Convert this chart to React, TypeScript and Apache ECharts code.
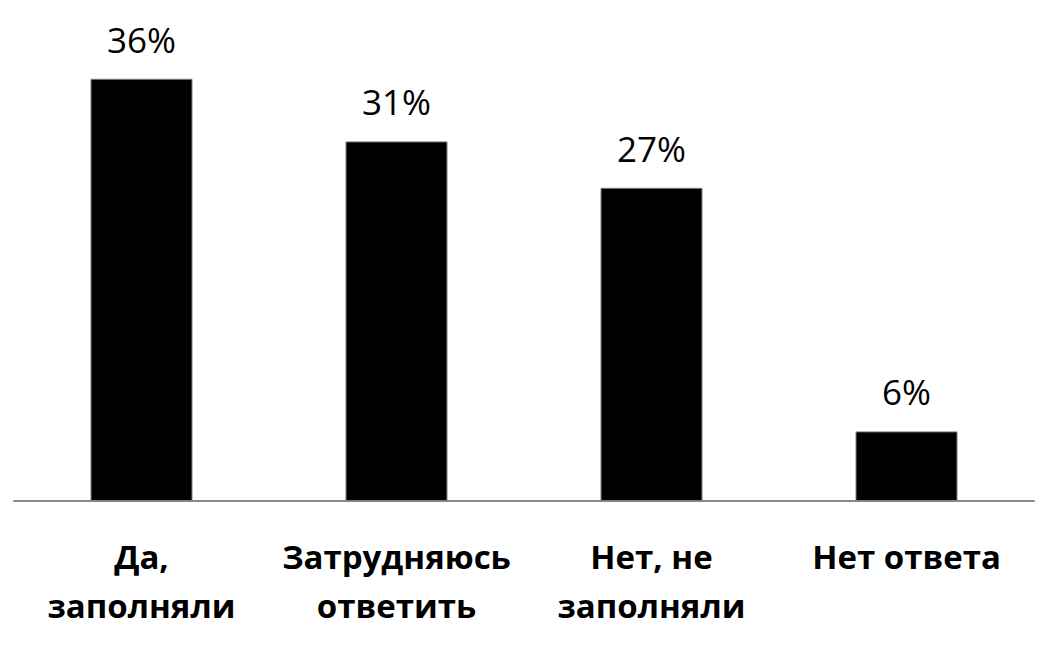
import React, { useEffect, useRef } from "react";
import * as echarts from "echarts";

const categories = ["Да,\nзаполняли", "Затрудняюсь\nответить", "Нет, не\nзаполняли", "Нет ответа"];
const values = [36.4, 31, 27, 6];
const yMax = 40;

export default function App() {
  const ref = useRef<HTMLDivElement>(null);
  useEffect(() => {
    if (!ref.current) return;
    const chart = echarts.init(ref.current, null, { renderer: "svg" });
    chart.setOption({
      animation: false,
      backgroundColor: "#ffffff",
      grid: { left: 14, right: 30, top: 37, bottom: 146 },
      xAxis: {
        type: "category",
        data: categories,
        axisLine: { show: true, lineStyle: { color: "#888888", width: 2 } },
        axisTick: { show: false },
        axisLabel: {
          interval: 0,
          margin: 31,
          color: "#000000",
          fontFamily: "Open Sans",
          fontWeight: "bold",
          fontSize: 33,
          lineHeight: 49,
        },
      },
      yAxis: {
        type: "value",
        min: 0,
        max: yMax,
        show: false,
        splitLine: { show: false },
      },
      series: [
        {
          type: "bar",
          data: values,
          barWidth: 102,
          itemStyle: { color: "#000000", borderColor: "#7f7f7f", borderWidth: 1 },
          label: {
            show: true,
            position: "top",
            distance: 22,
            color: "#000000",
            fontFamily: "Open Sans",
            fontSize: 35,
            formatter: (p: any) => Math.round(p.value) + "%",
          },
        },
      ],
    });
    return () => chart.dispose();
  }, []);
  return (
    <div
      ref={ref}
      style={{ position: "absolute", left: 0, top: 0, width: 1064, height: 647 }}
    />
  );
}
